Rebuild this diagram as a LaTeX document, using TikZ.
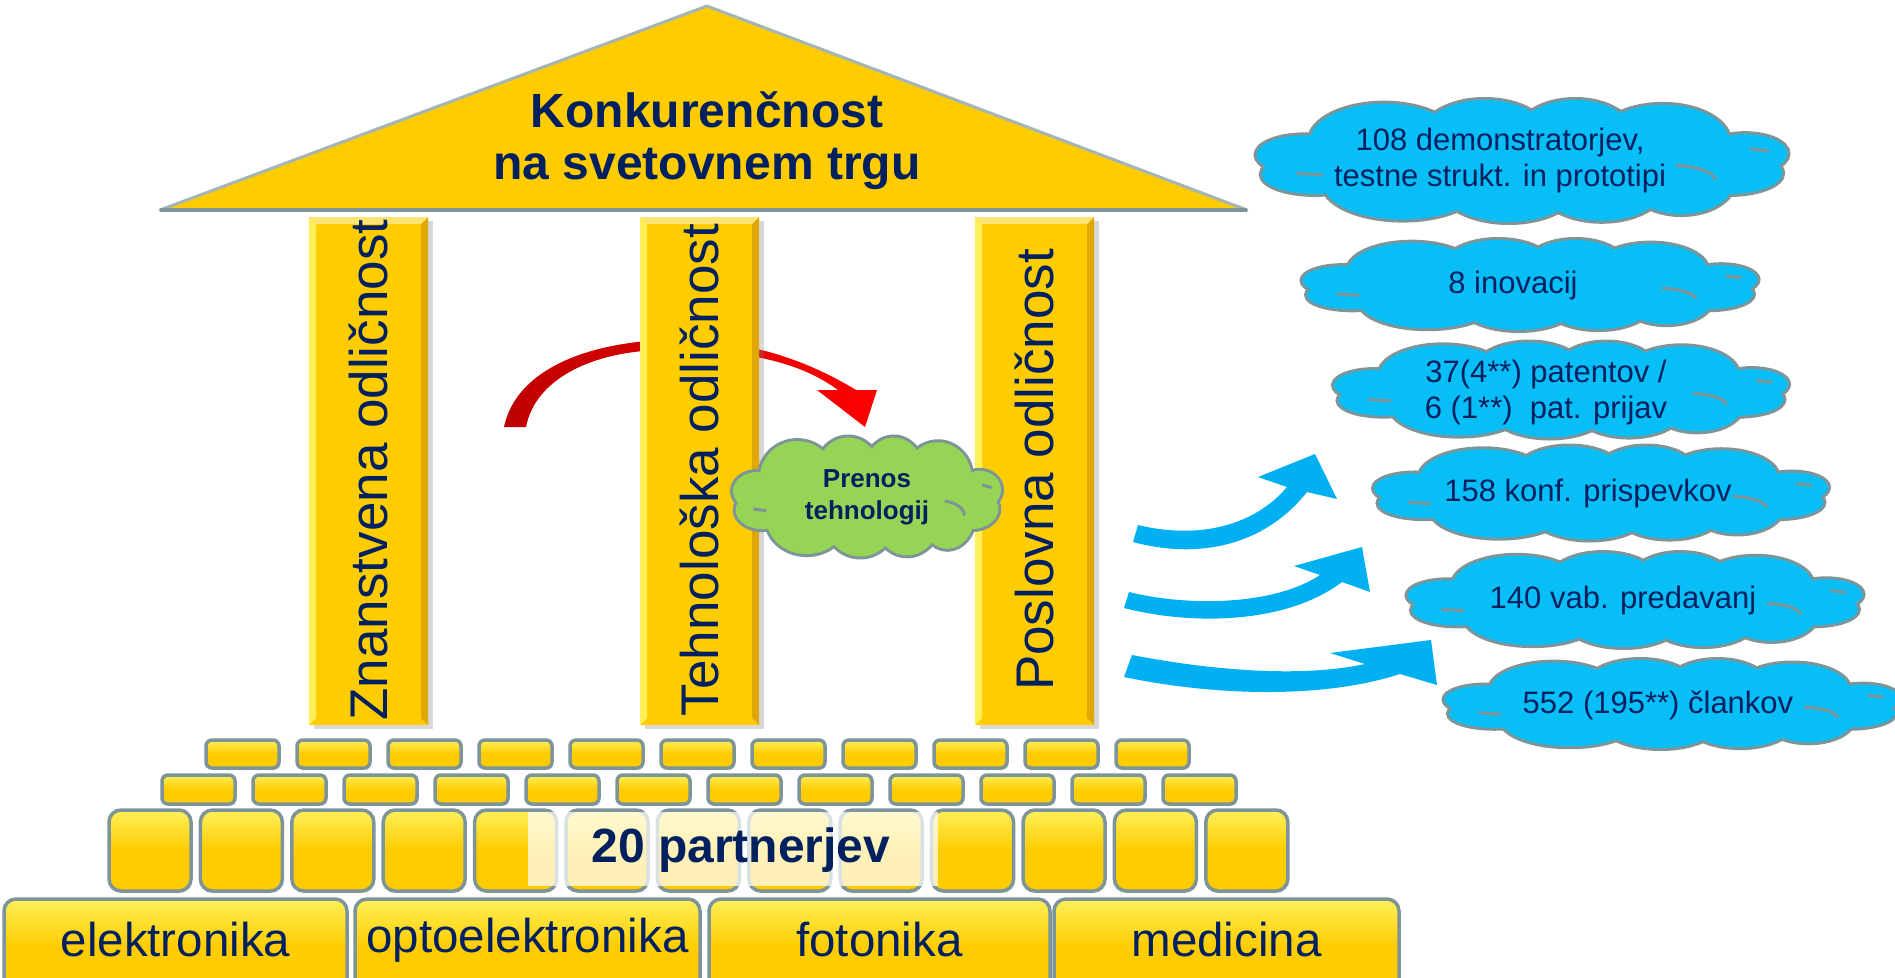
\documentclass[tikz,border=0pt]{standalone}
\usepackage{fontspec}
\setmainfont{Liberation Sans}
\usetikzlibrary{shadows}
\newcommand\fsz[2]{\fontsize{#1}{#2}\selectfont}
\definecolor{gold}{RGB}{255,204,0}
\definecolor{goldlight}{RGB}{255,240,90}
\definecolor{golddark}{RGB}{222,168,0}
\definecolor{navy}{RGB}{0,32,96}
\definecolor{edgegray}{RGB}{125,148,152}
\definecolor{cloudblue}{RGB}{8,190,246}
\definecolor{arrowblue}{RGB}{0,176,240}
\definecolor{leafgreen}{RGB}{150,212,85}
\definecolor{darkred}{RGB}{190,0,0}
\definecolor{brightred}{RGB}{255,0,0}
% cloud built from overlapping lobes: centre x, centre y, width, height, colour
\newcommand\lobelist{-0.52/-0.32/0.28/0.62, -0.14/-0.4/0.24/0.6, 0.2/-0.42/0.22/0.58,
  0.53/-0.32/0.25/0.6, -0.45/0.36/0.3/0.6, -0.05/0.4/0.26/0.6, 0.3/0.38/0.24/0.6,
  0.6/0.32/0.2/0.55, -0.82/-0.1/0.18/0.32, -0.78/0.22/0.2/0.32, 0.84/-0.12/0.16/0.32,
  0.78/0.2/0.2/0.34, 0/0/0.8/0.55}
\newcommand\drawcloud[5]{%
  \begin{scope}[shift={(#1,#2)}, xscale=#3/2, yscale=#4/2]
    \foreach \a/\b/\c/\d in \lobelist
      \draw[edgegray, line width=6pt] (\a,\b) ellipse [x radius=\c, y radius=\d];
    \foreach \a/\b/\c/\d in \lobelist
      \fill[#5] (\a,\b) ellipse [x radius=\c, y radius=\d];
    \draw[edgegray, line width=3pt] (0.58,0.07) .. controls (0.68,0.1) and (0.72,0.2) .. (0.73,0.31);
    \draw[edgegray, line width=3pt] (-0.85,0.2) -- (-0.75,0.23);
    \draw[edgegray, line width=3pt] (0.86,-0.2) -- (0.93,-0.16);
  \end{scope}}
\begin{document}
\begin{tikzpicture}[x=1pt,y=-1pt,
  smallbrick/.style={draw=edgegray, line width=3.5pt, rounded corners=6pt,
    top color=goldlight, bottom color=gold, middle color=gold,
    drop shadow={shadow xshift=1pt, shadow yshift=-2pt, opacity=0.25}},
  bigbrick/.style={smallbrick, rounded corners=12pt},
  catblock/.style={smallbrick, rounded corners=12pt},
  pillarbody/.style={fill=gold, drop shadow={shadow xshift=5pt, shadow yshift=-4pt, opacity=0.3}},
  cloudtext/.style={text=navy, font=\fsz{31}{36}, align=center},
  pillartext/.style={rotate=90, text=navy, font=\fsz{53}{60}},
  cattext/.style={text=navy, font=\fsz{47.5}{56}},
]
\useasboundingbox (0,0) rectangle (1895,977);
\fill[white] (0,0) rectangle (1895,977);

% roof
\path[fill=gold, draw=edgegray!70, line width=3pt, line join=round]
  (707,6) -- (1247,210) -- (160,210) -- cycle;
\draw[edgegray, line width=4pt] (160,210) -- (1247,210);
\node[text=navy, font=\bfseries\fsz{48}{52}, align=center] (roof) at (707,141)
  {Konkurenčnost\\na svetovnem trgu};

% red arrow (behind middle pillar)
\shade[left color=darkred, right color=brightred]
  (504,427) .. controls (515,375) and (575,345) .. (660,340)
  .. controls (750,336) and (815,365) .. (856,390)
  -- (877,390) -- (865,427) -- (817,390) -- (838,390)
  .. controls (800,362) and (745,349) .. (660,350)
  .. controls (590,352) and (535,380) .. (526,427) -- cycle;

% pillars
\foreach \px in {309,640,975}{
  \path[pillarbody] (\px,217) rectangle ++(119,508);
  \fill[goldlight] (\px,217) -- ++(7,7) -- ++(0,494) -- ++(-7,7) -- cycle;
  \fill[golddark] ({\px+119},217) -- ++(-7,7) -- ++(0,494) -- ++(7,7) -- cycle;
  \fill[gold!55!white] (\px,217) -- ++(119,0) -- ++(-7,7) -- ++(-105,0) -- cycle;
}
\node[pillartext] (t1) at (368.5,470) {Znanstvena odličnost};
\node[pillartext] (t2) at (699,470) {Tehnološka odličnost};
\node[pillartext] (t3) at (1034,470) {Poslovna odličnost};

% green cloud
\drawcloud{867}{497}{268}{119}{leafgreen}
\node[text=navy, font=\bfseries\fsz{26}{32}, align=center] (prenos) at (867,497)
  {Prenos\\tehnologij};

% bricks
\foreach \i in {0,...,10} \path[smallbrick] ({206+\i*91},740) rectangle ++(73,28);
\foreach \i in {0,...,11} \path[smallbrick] ({162+\i*91},775) rectangle ++(73,29);
\foreach \i in {0,...,12} \path[bigbrick] ({109+\i*91.4},810) rectangle ++(82,81);
\fill[white, opacity=0.72] (528,812) rectangle (938,886);
\node[text=navy, font=\bfseries\fsz{48}{52}] (partners) at (741,850) {20 partnerjev};

% category blocks
\path[catblock] (4,899) rectangle (347,995);
\path[catblock] (355,899) rectangle (700,995);
\path[catblock] (709,899) rectangle (1050,995);
\path[catblock] (1054,899) rectangle (1399,995);
\node[cattext] (e1) at (175.5,940) {elektronika};
\node[cattext] (e2) at (527.5,940) {optoelektronika};
\node[cattext] (e3) at (879.5,940) {fotonika};
\node[cattext] (e4) at (1226.5,940) {medicina};

% blue arrows
\fill[arrowblue] (1138,525) .. controls (1200,540) and (1255,525) .. (1287,487)
  -- (1258,477) -- (1315,454) -- (1337,499) -- (1307,492)
  .. controls (1265,545) and (1200,560) .. (1133,542) -- cycle;
\fill[arrowblue] (1129,592) .. controls (1190,607) and (1275,605) .. (1320,575)
  -- (1294,566) -- (1362,547) -- (1370,592) -- (1342,582)
  .. controls (1285,625) and (1190,625) .. (1124,608) -- cycle;
\fill[arrowblue] (1132,655) .. controls (1210,670) and (1300,678) .. (1365,664)
  -- (1330,653) -- (1431,640) -- (1437,685) -- (1400,674)
  .. controls (1320,700) and (1210,695) .. (1124,677) -- cycle;

% blue clouds
\drawcloud{1522}{161}{531}{122}{cloudblue}
\drawcloud{1530}{285}{455}{90}{cloudblue}
\drawcloud{1561}{390}{454}{95}{cloudblue}
\drawcloud{1601}{493}{454}{93}{cloudblue}
\drawcloud{1635}{600}{455}{94}{cloudblue}
\drawcloud{1672}{704}{455}{88}{cloudblue}
\node[cloudtext] (k1) at (1500,160) {108 demonstratorjev,\\testne strukt. in prototipi};
\node[cloudtext] (k2) at (1513,285) {8 inovacij};
\node[cloudtext] (k3) at (1546,392) {37(4**) patentov /\\6 (1**)~ pat. prijav};
\node[cloudtext] (k4) at (1588,493) {158 konf. prispevkov};
\node[cloudtext] (k5) at (1623,600) {140 vab. predavanj};
\node[cloudtext] (k6) at (1658,705) {552 (195**) člankov};
\end{tikzpicture}
\end{document}
